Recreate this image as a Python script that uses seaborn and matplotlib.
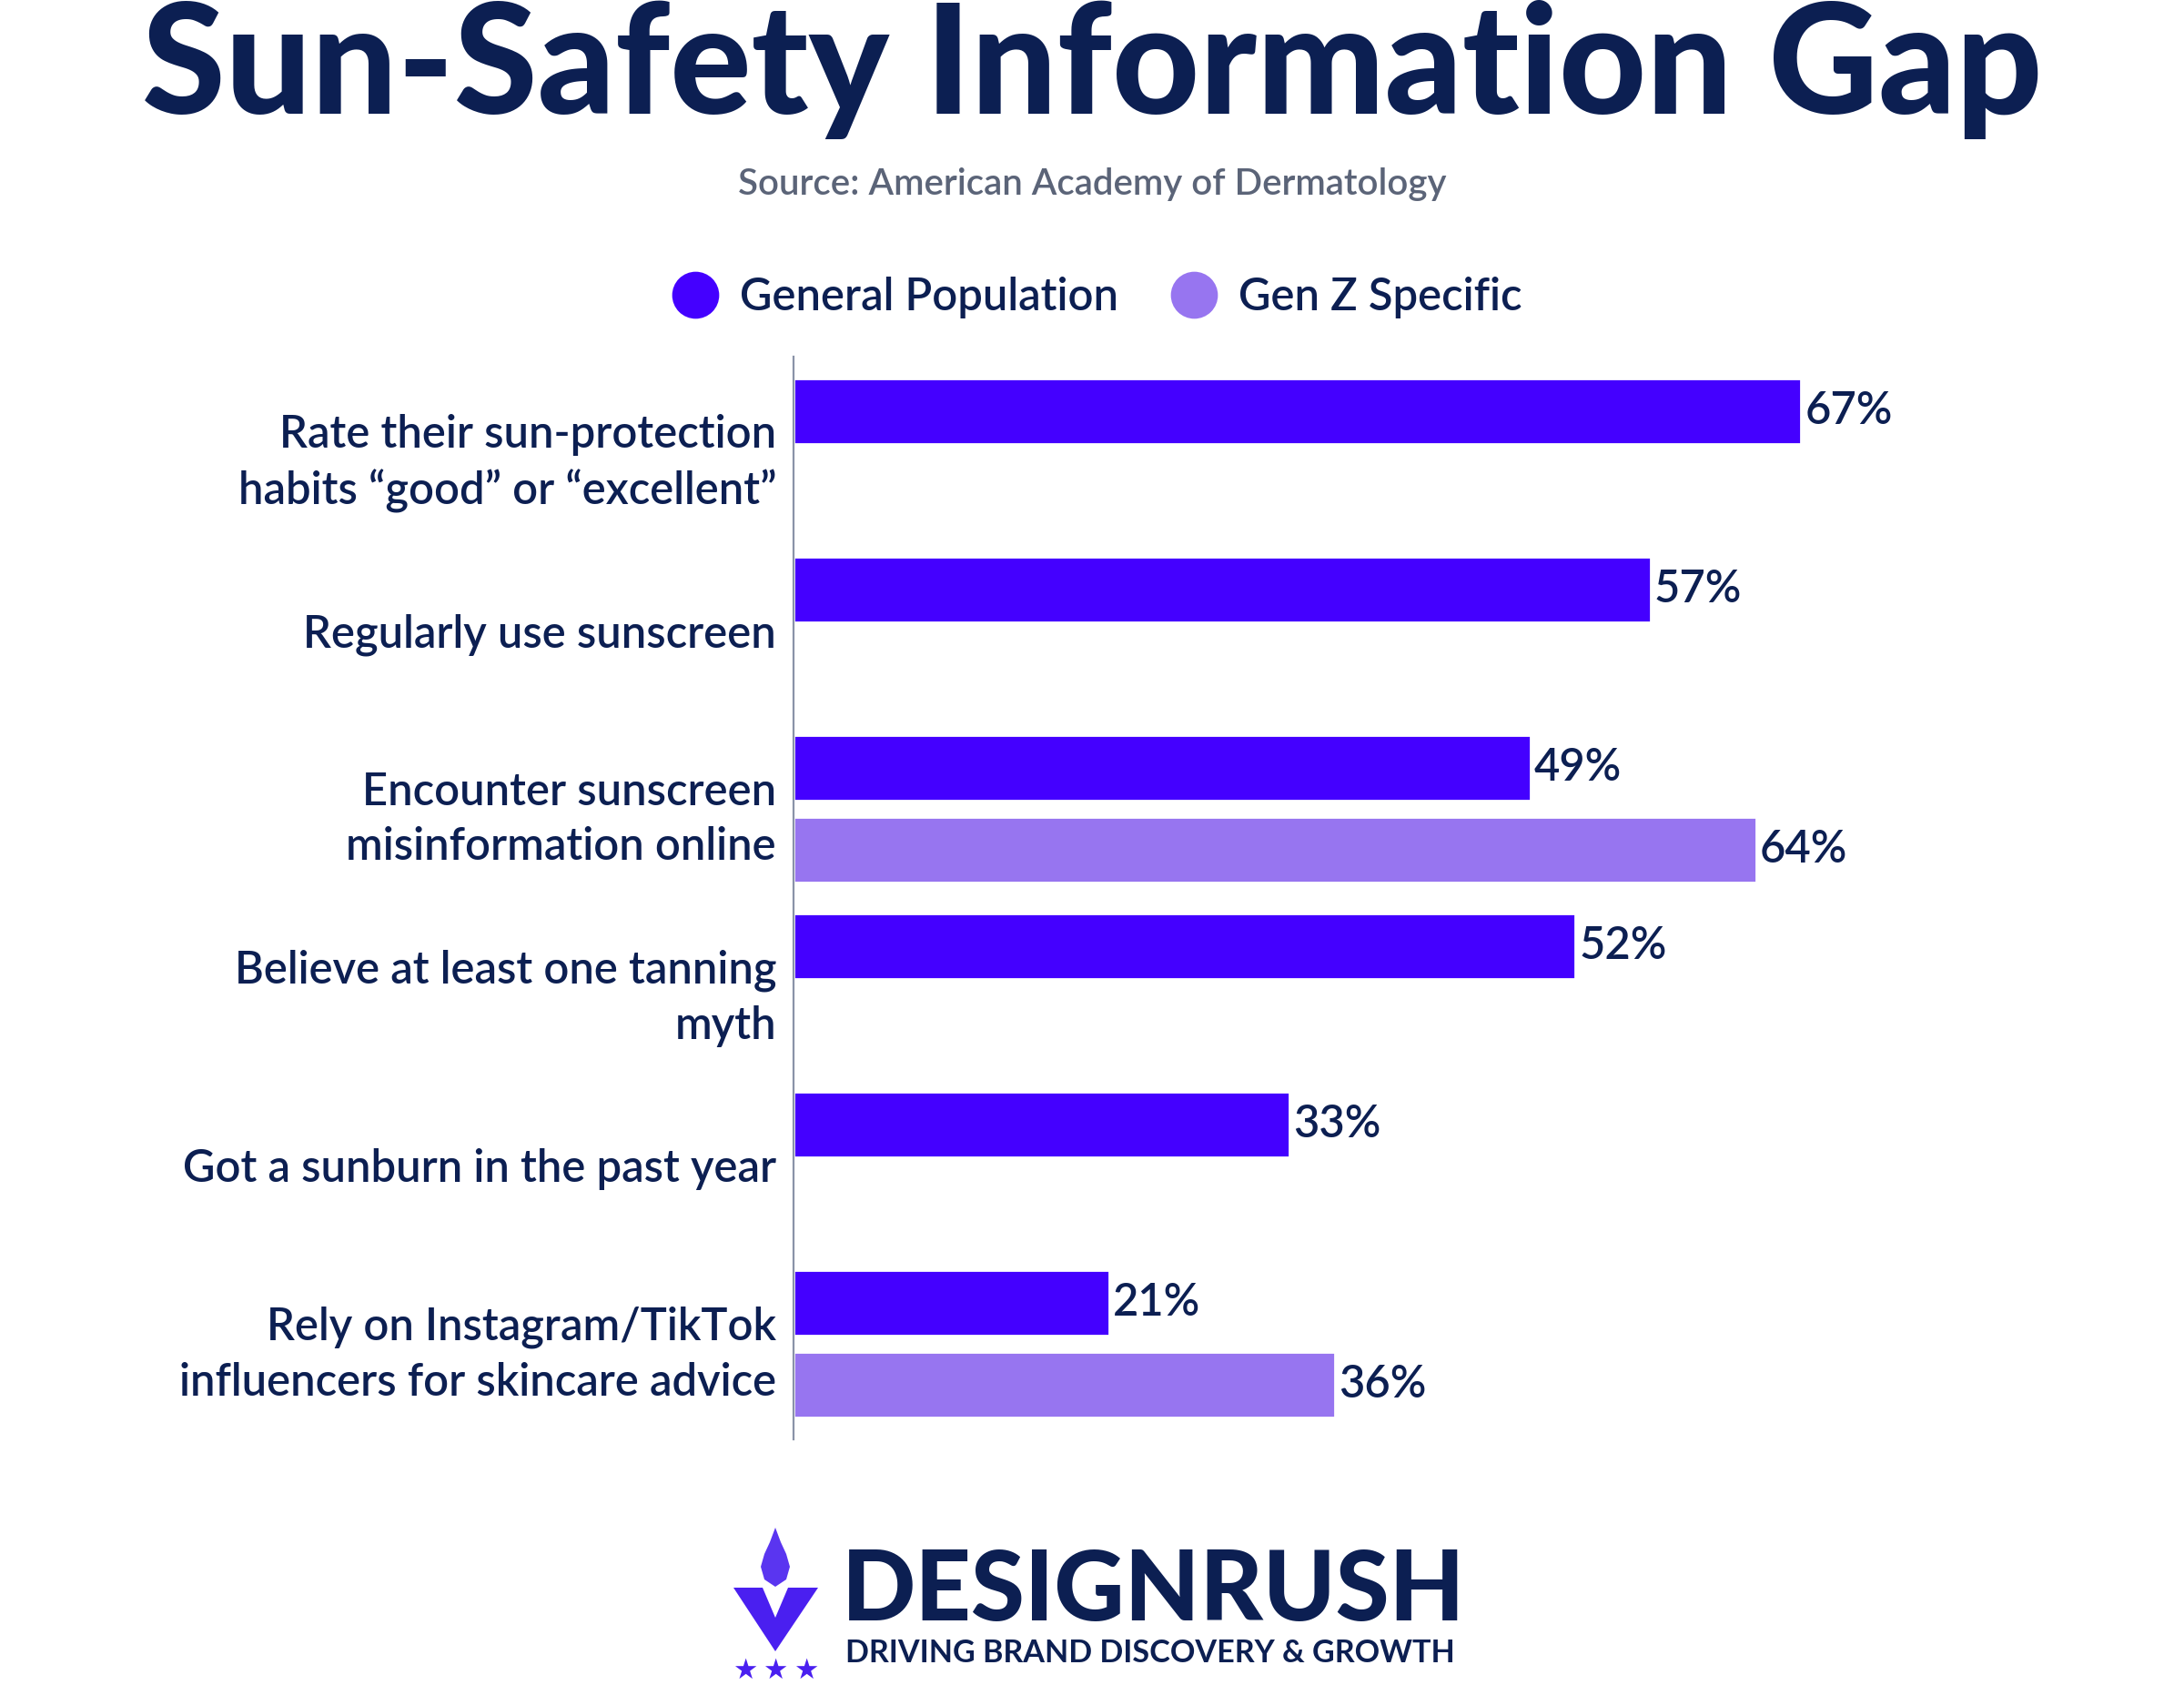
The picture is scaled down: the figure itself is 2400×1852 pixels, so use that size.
import pandas as pd
import numpy as np
import matplotlib
matplotlib.use("Agg")
import matplotlib.pyplot as plt
from matplotlib.lines import Line2D
from matplotlib.patches import Polygon
import seaborn as sns

# data
categories = [
    "Rate their sun-protection\nhabits \u201cgood\u201d or \u201cexcellent\u201d",
    "Regularly use sunscreen",
    "Encounter sunscreen\nmisinformation online",
    "Believe at least one tanning\nmyth",
    "Got a sunburn in the past year",
    "Rely on Instagram/TikTok\ninfluencers for skincare advice",
]
general_pop = [67, 57, 49, 52, 33, 21]
gen_z = [None, None, 64, None, None, 36]
groups = ["General Population", "Gen Z Specific"]

NAVY = "#0c1f52"
PURPLE = "#4400ff"
LAVENDER = "#9775f0"

df = pd.DataFrame({"category": categories,
                   groups[0]: general_pop,
                   groups[1]: gen_z})
df = df.melt(id_vars="category", var_name="group", value_name="value").dropna()

sns.set_style("white")
plt.rcParams["font.family"] = ["Lato", "DejaVu Sans"]

W, H = 2400, 1852
fig = plt.figure(figsize=(12, 9.26), dpi=200)

def fx(px):
    return px / W

def fy(py):
    return 1 - py / H

ax = fig.add_axes([fx(872), fy(1582), fx(2300) - fx(872), fy(392) - fy(1582)])
sns.barplot(data=df, y="category", x="value", hue="group", order=categories,
            hue_order=groups, palette=[PURPLE, LAVENDER], orient="h",
            width=0.918, gap=0.205, legend=False, saturation=1, ax=ax)

ax.set_xlim(0, 86.4)
ax.set_ylim(5.536, -0.536)
ax.set_xlabel("")
ax.set_ylabel("")
ax.set_xticks([])
for side in ["top", "right", "bottom"]:
    ax.spines[side].set_visible(False)
ax.spines["left"].set_color("#8a93a8")
ax.spines["left"].set_linewidth(0.8)
ax.tick_params(axis="y", length=0, pad=6.8)
for lbl in ax.get_yticklabels():
    lbl.set_fontsize(17.6)
    lbl.set_color(NAVY)
    lbl.set_fontweight("semibold")
    lbl.set_linespacing(1.4)

for cont in ax.containers:
    ax.bar_label(cont, labels=[f"{v:.0f}%" for v in cont.datavalues],
                 padding=1.4, fontsize=17.6, color=NAVY, fontweight="semibold")

# title and source
fig.text(0.5, fy(125), "Sun-Safety Information Gap", ha="center", va="baseline",
         fontsize=60, fontweight="black", color=NAVY)
fig.text(0.5, fy(214), "Source: American Academy of Dermatology", ha="center",
         va="baseline", fontsize=14.5, color="#5b6478", fontweight="semibold")

# legend
handles = [Line2D([], [], marker="o", linestyle="", markersize=17.6,
                  markerfacecolor=c, markeredgecolor=c)
           for c in [PURPLE, LAVENDER]]
leg = fig.legend(handles, groups, loc="center", bbox_to_anchor=(0.5025, fy(327)),
                 ncol=2, frameon=False, handlelength=1.0, handletextpad=0.5,
                 columnspacing=1.2, prop={"size": 17.6, "weight": "semibold"})
for t in leg.get_texts():
    t.set_color(NAVY)

# DesignRush logo
fig.text(fx(925), fy(1781), "DESIGNRUSH", ha="left", va="baseline",
         fontsize=38.5, fontweight="black", color=NAVY)
fig.text(fx(929), fy(1827), "DRIVING BRAND DISCOVERY & GROWTH", ha="left",
         va="baseline", fontsize=12.3, fontweight="bold", color=NAVY)
v_pts = [(806, 1745), (838, 1745), (852, 1778), (866, 1745), (899, 1745), (852, 1815)]
fig.patches.append(Polygon([(fx(x), fy(y)) for x, y in v_pts], closed=True,
                           transform=fig.transFigure, facecolor="#4a1ff0",
                           edgecolor="none"))
flame_pts = [(852, 1679), (846, 1695), (840, 1708), (836, 1722), (840, 1736),
             (852, 1744), (864, 1736), (868, 1722), (864, 1708), (858, 1695)]
fig.patches.append(Polygon([(fx(x), fy(y)) for x, y in flame_pts], closed=True,
                           transform=fig.transFigure, facecolor="#5a35f0",
                           edgecolor="none"))
for sx in [819, 852, 886]:
    fig.text(fx(sx), fy(1836), "\u2605", ha="center", va="center", fontsize=11,
             color="#4a1ff0", family=["DejaVu Sans"])

fig.savefig("out.png", dpi=200, facecolor="white")
